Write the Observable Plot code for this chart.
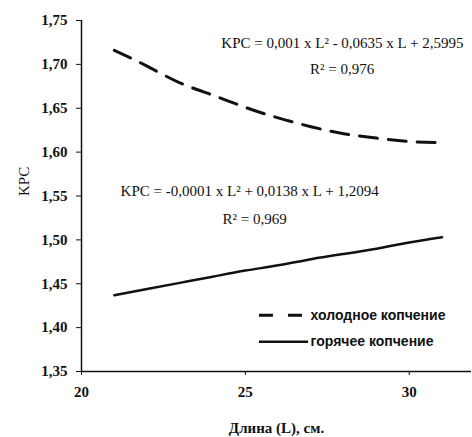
<!DOCTYPE html>
<html>
<head>
<meta charset="utf-8">
<script src="https://cdn.jsdelivr.net/npm/d3@7"></script>
<script src="https://cdn.jsdelivr.net/npm/@observablehq/plot@0.6"></script>
<style>
  html, body { margin: 0; padding: 0; background: #fff; }
  #chart svg { display: block; }
</style>
</head>
<body>
<div id="chart"></div>
<script>
// Length L, cm
const lengths = [21, 22, 23, 24, 25, 26, 27, 28, 29, 30, 31];
// KPC values
const coldSmoked = [1.716, 1.698, 1.679, 1.665, 1.651, 1.639, 1.629, 1.621, 1.616, 1.612, 1.611];
const hotSmoked  = [1.437, 1.444, 1.451, 1.458, 1.465, 1.471, 1.478, 1.484, 1.490, 1.497, 1.503];
const seriesNames = ["холодное копчение", "горячее копчение"];
const xTicks = [20, 25, 30];
const yTicks = [1.35, 1.40, 1.45, 1.50, 1.55, 1.60, 1.65, 1.70, 1.75];
const equations = [
  "KPC = 0,001 x L² - 0,0635 x L + 2,5995",
  "R² = 0,976",
  "KPC = -0,0001 x L² + 0,0138 x L + 1,2094",
  "R² = 0,969"
];

const cold = lengths.map((L, i) => ({L, v: coldSmoked[i]}));
const hot = lengths.map((L, i) => ({L, v: hotSmoked[i]}));
const fmt = d => d.toFixed(2).replace(".", ",");
const ink = "#111";
const serif = "'Liberation Serif', 'Times New Roman', serif";
const sans = "'Liberation Sans', Arial, sans-serif";

const chart = Plot.plot({
  width: 472,
  height: 437,
  marginLeft: 81,
  marginRight: 1,
  marginTop: 20,
  marginBottom: 66,
  x: {domain: [20, 31.9]},
  y: {domain: [1.35, 1.75]},
  style: {fontFamily: serif, background: "#fff", color: ink},
  marks: [
    Plot.ruleX([20], {y1: 1.35, y2: 1.75, stroke: ink, strokeWidth: 1.5}),
    Plot.ruleY([1.35], {stroke: ink, strokeWidth: 1.5}),
    Plot.axisY({ticks: yTicks, tickFormat: fmt, tickSize: 5, tickPadding: 9, fontSize: 15, fontWeight: "bold", fontFamily: serif, stroke: ink, label: null}),
    Plot.axisX({ticks: xTicks, tickFormat: d => String(d), tickSize: 4, tickPadding: 11, fontSize: 15, fontWeight: "bold", fontFamily: serif, stroke: ink, label: null}),
    Plot.text(["KPC"], {frameAnchor: "left", dx: -57, rotate: -90, fontSize: 15, fontFamily: serif, fill: ink}),
    Plot.text(["Длина (L), см."], {frameAnchor: "bottom", dy: 61, fontSize: 15, fontWeight: "bold", fontFamily: serif, fill: ink}),
    Plot.line(cold, {x: "L", y: "v", curve: "natural", stroke: ink, strokeWidth: 3, strokeDasharray: "18,11"}),
    Plot.line(hot, {x: "L", y: "v", curve: "natural", stroke: ink, strokeWidth: 2.5}),
    Plot.text([equations[0]], {x: 27.96, y: 1.7238, fontSize: 15, fontFamily: serif, fill: ink}),
    Plot.text([equations[1]], {x: 27.95, y: 1.695, fontSize: 15, fontFamily: serif, fill: ink}),
    Plot.text([equations[2]], {x: 25.13, y: 1.555, fontSize: 15, fontFamily: serif, fill: ink}),
    Plot.text([equations[3]], {x: 25.28, y: 1.524, fontSize: 15, fontFamily: serif, fill: ink}),
    // legend
    Plot.ruleY([1.414], {x1: 25.43, x2: 26.77, stroke: ink, strokeWidth: 3, strokeDasharray: "14,15"}),
    Plot.ruleY([1.384], {x1: 25.43, x2: 26.93, stroke: ink, strokeWidth: 2.5}),
    Plot.text([seriesNames[0]], {x: 26.99, y: 1.414, textAnchor: "start", fontFamily: sans, fontSize: 14, fontWeight: "bold", fill: ink}),
    Plot.text([seriesNames[1]], {x: 26.99, y: 1.384, textAnchor: "start", fontFamily: sans, fontSize: 14, fontWeight: "bold", fill: ink})
  ]
});
document.getElementById("chart").appendChild(chart);
</script>
</body>
</html>
